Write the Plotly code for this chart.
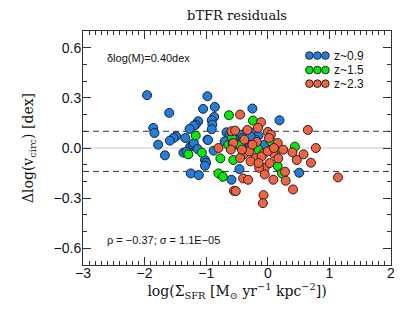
import plotly.graph_objects as go

# ---- data ----
blue_x = [-1.96, -0.98, -0.86, -1.05, -1.60, -0.87, -0.91, -1.13, -1.17, -1.20, -1.27, -0.90, -0.91,
          -1.86, -1.84, -1.49, -1.53, -1.59, -1.34, -0.98, -1.78, -0.67, -1.26, -0.25, 0.19, -0.34,
          -0.25, -0.15, -0.45, -1.67, -1.37, -1.32, -1.22, -1.20, -1.14, -1.02, -1.00, -1.02, -1.25,
          -1.12, -0.88, -0.97, -0.59, 0.51, -0.46, -0.15, -0.62, -0.55, -0.40, -0.30, -0.20, -0.50,
          -0.70, -0.05, -0.35, -0.42, -0.28, -0.58]
blue_y = [0.316, 0.31, 0.246, 0.234, 0.21, 0.186, 0.166, 0.16, 0.14, 0.134, 0.114, 0.14, 0.112,
          0.12, 0.09, 0.07, 0.06, 0.044, 0.06, 0.05, 0.02, 0.094, 0.008, 0.236, 0.166, 0.10,
          0.092, 0.074, 0.08, -0.044, -0.028, -0.022, 0.02, 0.03, -0.006, -0.072, -0.088, -0.106, -0.152,
          -0.162, -0.016, 0.048, -0.19, -0.148, -0.126, 0.012, 0.08, 0.06, 0.06, 0.04, 0.05, 0.02,
          0.04, 0.02, 0.0, 0.03, 0.07, 0.09]

green_x = [-0.63, -1.17, -0.24, 0.44, -0.45, -1.29, -1.07, -0.77, -0.80, -0.73, -0.64, 0.16, 0.23,
           -0.56, -0.35, -0.15, 0.05, -0.58, 0.12]
green_y = [0.196, 0.074, 0.164, 0.008, 0.016, -0.038, -0.028, -0.062, -0.152, -0.172, 0.018, -0.108, -0.152,
           -0.072, -0.02, -0.01, 0.04, 0.06, -0.02]

red_x = [-0.59, -0.57, -0.45, -0.11, 0.65, 0.0, 0.05, 0.16, 0.78, -0.53, -0.38, -0.18, -0.56, -0.80,
         -0.55, 0.40, 0.58, 0.47, 0.70, 1.14, 0.41, 0.09, -0.07, 0.17, 0.28, 0.29, 0.09, -0.05, -0.05,
         -0.14, -0.40, -0.32, -0.52, -0.07, -0.08, -0.40, -0.30, -0.20, -0.10, 0.0, -0.25, -0.45, 0.02,
         -0.60, 0.10, -0.28, -0.15, 0.25, -0.33, -0.16, -0.42, 0.03]
red_y = [0.10, 0.03, 0.20, 0.154, 0.108, 0.096, 0.08, 0.03, 0.0, 0.104, 0.05, 0.036, 0.03, 0.0,
         -0.256, -0.026, -0.038, -0.072, -0.088, -0.176, -0.248, -0.032, -0.032, -0.062, -0.142, -0.196, -0.19, -0.118, -0.158,
         -0.118, -0.182, -0.19, -0.258, -0.282, -0.33, -0.04, -0.02, -0.06, -0.05, -0.02, 0.02, -0.06, 0.06,
         -0.01, 0.0, -0.08, -0.09, -0.01, 0.108, 0.12, -0.01, -0.09]

series_names = ["z~0.9", "z~1.5", "z~2.3"]
series_colors = ["#1f7fe0", "#00ee00", "#f4623f"]
x_ticks = [-3, -2, -1, 0, 1, 2]
y_ticks = [-0.6, -0.3, 0.0, 0.3, 0.6]
upper_dash = 0.10
lower_dash = -0.14

fig = go.Figure()

for xs, ys, col, name in [(blue_x, blue_y, series_colors[0], series_names[0]),
                          (green_x, green_y, series_colors[1], series_names[1]),
                          (red_x, red_y, series_colors[2], series_names[2])]:
    fig.add_trace(go.Scatter(x=xs, y=ys, mode="markers", name=name, showlegend=False,
                             marker=dict(size=9, color=col, line=dict(color="#222222", width=1))))

# reference lines
fig.add_hline(y=0, line=dict(color="#c8c8c8", width=1), layer="below")
fig.add_hline(y=upper_dash, line=dict(color="#333333", width=1, dash="6px,4px"), layer="below")
fig.add_hline(y=lower_dash, line=dict(color="#333333", width=1, dash="6px,4px"), layer="below")

# manual legend (three circles per entry)
leg_y = [0.895, 0.833, 0.775]
for i, (name, col) in enumerate(zip(series_names, series_colors)):
    for j in range(3):
        fig.add_shape(type="circle", xref="paper", yref="paper",
                      xsizemode="pixel", ysizemode="pixel",
                      xanchor=0.735 + j * 0.026, yanchor=leg_y[i],
                      x0=-3.8, x1=3.8, y0=-3.8, y1=3.8,
                      fillcolor=col, line=dict(color="#222222", width=1))
    fig.add_annotation(xref="paper", yref="paper", x=0.81, y=leg_y[i], text=name,
                       showarrow=False, xanchor="left", yanchor="middle",
                       font=dict(family="Liberation Sans", size=12, color="#111111"))

fig.add_annotation(xref="paper", yref="paper", x=0.07, y=0.885, text="δlog(M)=0.40dex",
                   showarrow=False, xanchor="left", yanchor="middle",
                   font=dict(family="Liberation Sans", size=11, color="#111111"))
fig.add_annotation(xref="paper", yref="paper", x=0.07, y=0.105, text="ρ = −0.37; σ = 1.1E−05",
                   showarrow=False, xanchor="left", yanchor="middle",
                   font=dict(family="Liberation Sans", size=11, color="#111111"))

axis_common = dict(showgrid=False, zeroline=False, showline=True, linecolor="#333333", linewidth=1,
                   mirror="ticks", ticks="inside", ticklen=8, tickcolor="#333333", automargin=False,
                   tickfont=dict(family="Liberation Sans", size=14, color="#111111"))

fig.update_xaxes(range=[-3, 2], tickvals=x_ticks, ticktext=[str(v).replace("-", "−") for v in x_ticks],
                 minor=dict(dtick=0.1, ticks="inside", ticklen=4, tickcolor="#333333"),
                 ticklabelstandoff=-5,
                 title=dict(text="log(Σ<sub>SFR</sub> [M<sub>⊙</sub> yr<sup>−1</sup> kpc<sup>−2</sup>])",
                            font=dict(family="DejaVu Serif", size=14, color="#111111"), standoff=0),
                 **axis_common)
fig.update_yaxes(range=[-0.7, 0.7], tickvals=y_ticks, tickformat=".1f",
                 minor=dict(dtick=0.1, ticks="inside", ticklen=4, tickcolor="#333333"),
                 ticklabelstandoff=-2,
                 title=dict(text="Δlog(v<sub>circ</sub>) [dex]",
                            font=dict(family="DejaVu Serif", size=14, color="#111111"), standoff=16),
                 **axis_common)

# the page body has an 8px default margin, so margins are offset to place the plot area
fig.update_layout(width=415, height=312, margin=dict(l=75, r=32, t=23, b=55),
                  paper_bgcolor="white", plot_bgcolor="white",
                  title=dict(text="bTFR residuals", x=0.552, xanchor="center", y=0.976, yanchor="middle",
                             font=dict(family="DejaVu Serif", size=13, color="#111111")))

fig.write_html("out.html")
